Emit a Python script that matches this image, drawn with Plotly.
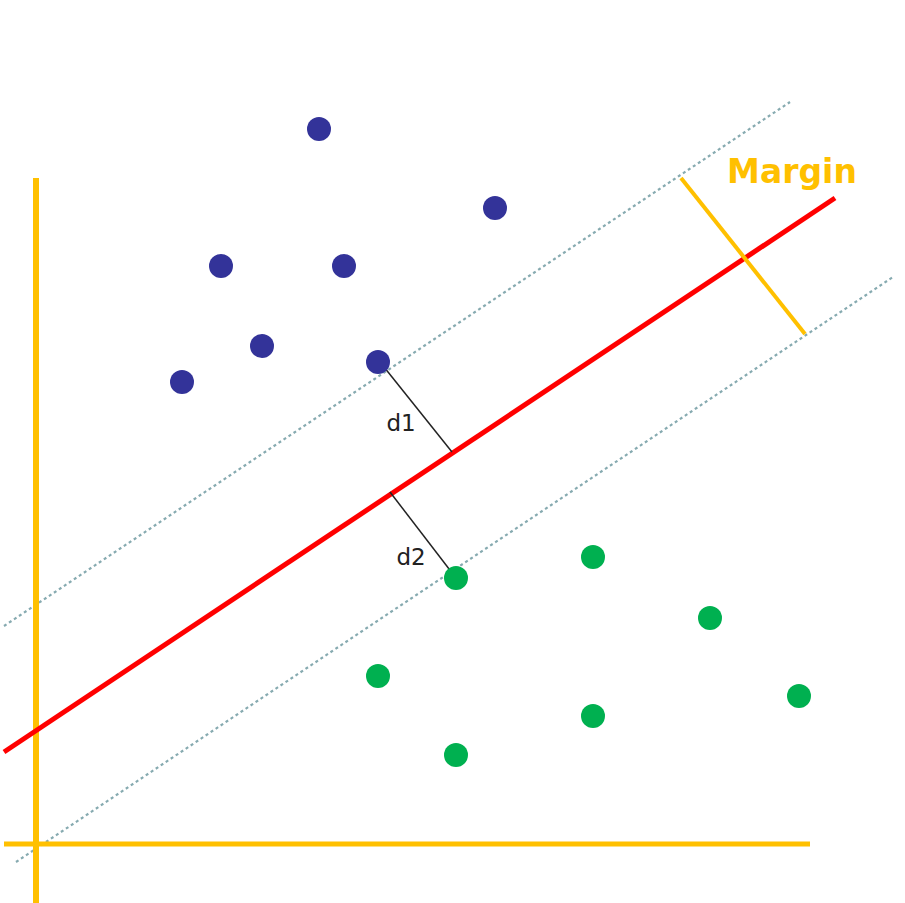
import plotly.graph_objects as go

# Points (diagram units)
blue_x = [319, 495, 221, 344, 262, 378, 182]
blue_y = [129, 208, 266, 266, 346, 362, 382]
green_x = [593, 456, 710, 378, 799, 593, 456]
green_y = [557, 578, 618, 676, 696, 716, 755]

# Lines (endpoints)
hyper_x = [4, 835]
hyper_y = [752, 198]
upper_x = [4, 790]
upper_y = [626, 102]
lower_x = [16, 893]
lower_y = [862, 277]
margin_x = [681, 805]
margin_y = [178, 334]
d1_x = [380, 452]
d1_y = [362, 452]
d2_x = [390, 456]
d2_y = [492, 578]
vaxis_x = [36, 36]
vaxis_y = [178, 903]
haxis_x = [4, 810]
haxis_y = [844, 844]

labels = ["d1", "d2"]
label_x = [401, 411]
label_y = [425, 559]

gold = "#FFC000"
fig = go.Figure()

def line(x, y, color, width, dash="solid"):
    fig.add_trace(go.Scatter(x=x, y=y, mode="lines", line=dict(color=color, width=width, dash=dash),
                             hoverinfo="skip", showlegend=False))

line(upper_x, upper_y, "#86AAB0", 2.2, "dot")
line(lower_x, lower_y, "#86AAB0", 2.2, "dot")
line(vaxis_x, vaxis_y, gold, 6)
line(haxis_x, haxis_y, gold, 5)
line(hyper_x, hyper_y, "#FF0000", 5)
line(margin_x, margin_y, gold, 4)
line(d1_x, d1_y, "#222222", 1.5)
line(d2_x, d2_y, "#222222", 1.5)

fig.add_trace(go.Scatter(x=blue_x, y=blue_y, mode="markers",
                         marker=dict(color="#333399", size=24), showlegend=False))
fig.add_trace(go.Scatter(x=green_x, y=green_y, mode="markers",
                         marker=dict(color="#00B050", size=24), showlegend=False))

fig.add_trace(go.Scatter(x=label_x, y=label_y, mode="text", text=labels,
                         textfont=dict(family="DejaVu Sans", size=23, color="#222222"),
                         showlegend=False))
fig.add_trace(go.Scatter(x=[792], y=[175], mode="text", text=["<b>Margin</b>"],
                         textfont=dict(family="DejaVu Sans", size=33, color=gold),
                         showlegend=False))

fig.update_layout(
    width=905, height=903,
    margin=dict(l=0, r=0, t=0, b=0),
    paper_bgcolor="white", plot_bgcolor="white",
    xaxis=dict(range=[0, 905], visible=False, fixedrange=True),
    yaxis=dict(range=[903, 0], visible=False, fixedrange=True),
)
fig.write_html("out.html", config={"displayModeBar": False},
               post_script="document.body.style.margin='0';document.body.style.overflow='hidden';")
